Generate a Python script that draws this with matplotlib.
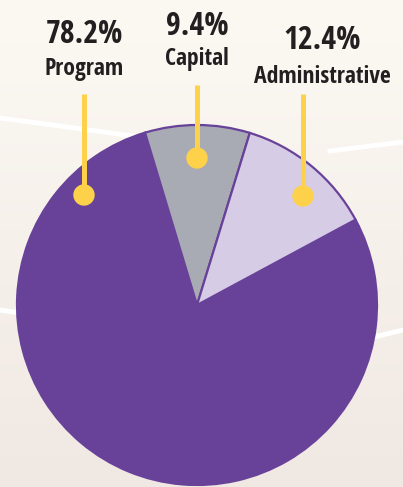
import matplotlib.pyplot as plt
import numpy as np
from matplotlib.patches import Circle

# expense breakdown
labels = ['Program', 'Capital', 'Administrative']
values = [78.2, 9.4, 12.4]
colors = ['#684299', '#a8abb3', '#d6cce6']

# label layout in pixel coords (y up), x of the leader line
label_x = [84, 197, 303]
text_x = [84, 197, 322]
pct_base = [444, 452, 438]
name_base = [412, 422, 404]
line_top = [393, 402, 393]
dot_y = [292, 329, 291]

W, H = 403, 487
fig = plt.figure(figsize=(W / 100, H / 100), dpi=100)
ax = fig.add_axes([0, 0, 1, 1])

# soft cream background gradient, lighter at the top
grad = np.linspace(0, 1, 200).reshape(-1, 1, 1)
top = np.array([252, 249, 243]) / 255
bot = np.array([240, 232, 227]) / 255
img = top + (bot - top) * grad * np.ones((1, 2, 1))
ax.imshow(img, extent=[0, W, 0, H], aspect='auto', zorder=0)

# decorative white swooshes
ax.plot([0, 60, 140, 200], [369, 361, 350, 343], color='white', lw=3.5, zorder=1)
ax.plot([330, 370, 403], [336, 341, 345], color='white', lw=3.5, zorder=1)
ax.plot([0, 20], [177, 174], color='white', lw=3.5, zorder=1)
ax.plot([370, 403], [149, 157], color='white', lw=3.5, zorder=1)

wedges, _ = ax.pie(values, colors=colors, startangle=28.3, counterclock=False,
                   center=(197, 182), radius=180, frame=True,
                   wedgeprops=dict(edgecolor='#684299', linewidth=1.6))
for w in wedges:
    w.set_zorder(2)
ax.set_xlim(0, W)
ax.set_ylim(0, H)
ax.set_aspect('equal')
ax.axis('off')

font = ['Open Sans Condensed', 'Roboto Condensed', 'DejaVu Sans']
yellow = '#fdd24a'
for i in range(len(labels)):
    ax.plot([label_x[i], label_x[i]], [line_top[i], dot_y[i]], color=yellow,
            lw=3.6, solid_capstyle='butt', zorder=3)
    ax.add_patch(Circle((label_x[i], dot_y[i]), 10, color=yellow, zorder=4))
    ax.text(text_x[i], pct_base[i], f'{values[i]}%', ha='center', va='baseline',
            fontsize=23, fontweight='bold', color='#231f20', family=font)
    ax.text(text_x[i], name_base[i], labels[i], ha='center', va='baseline',
            fontsize=17, fontweight='bold', color='#231f20', family=font)

fig.savefig('out.png', dpi=100)
